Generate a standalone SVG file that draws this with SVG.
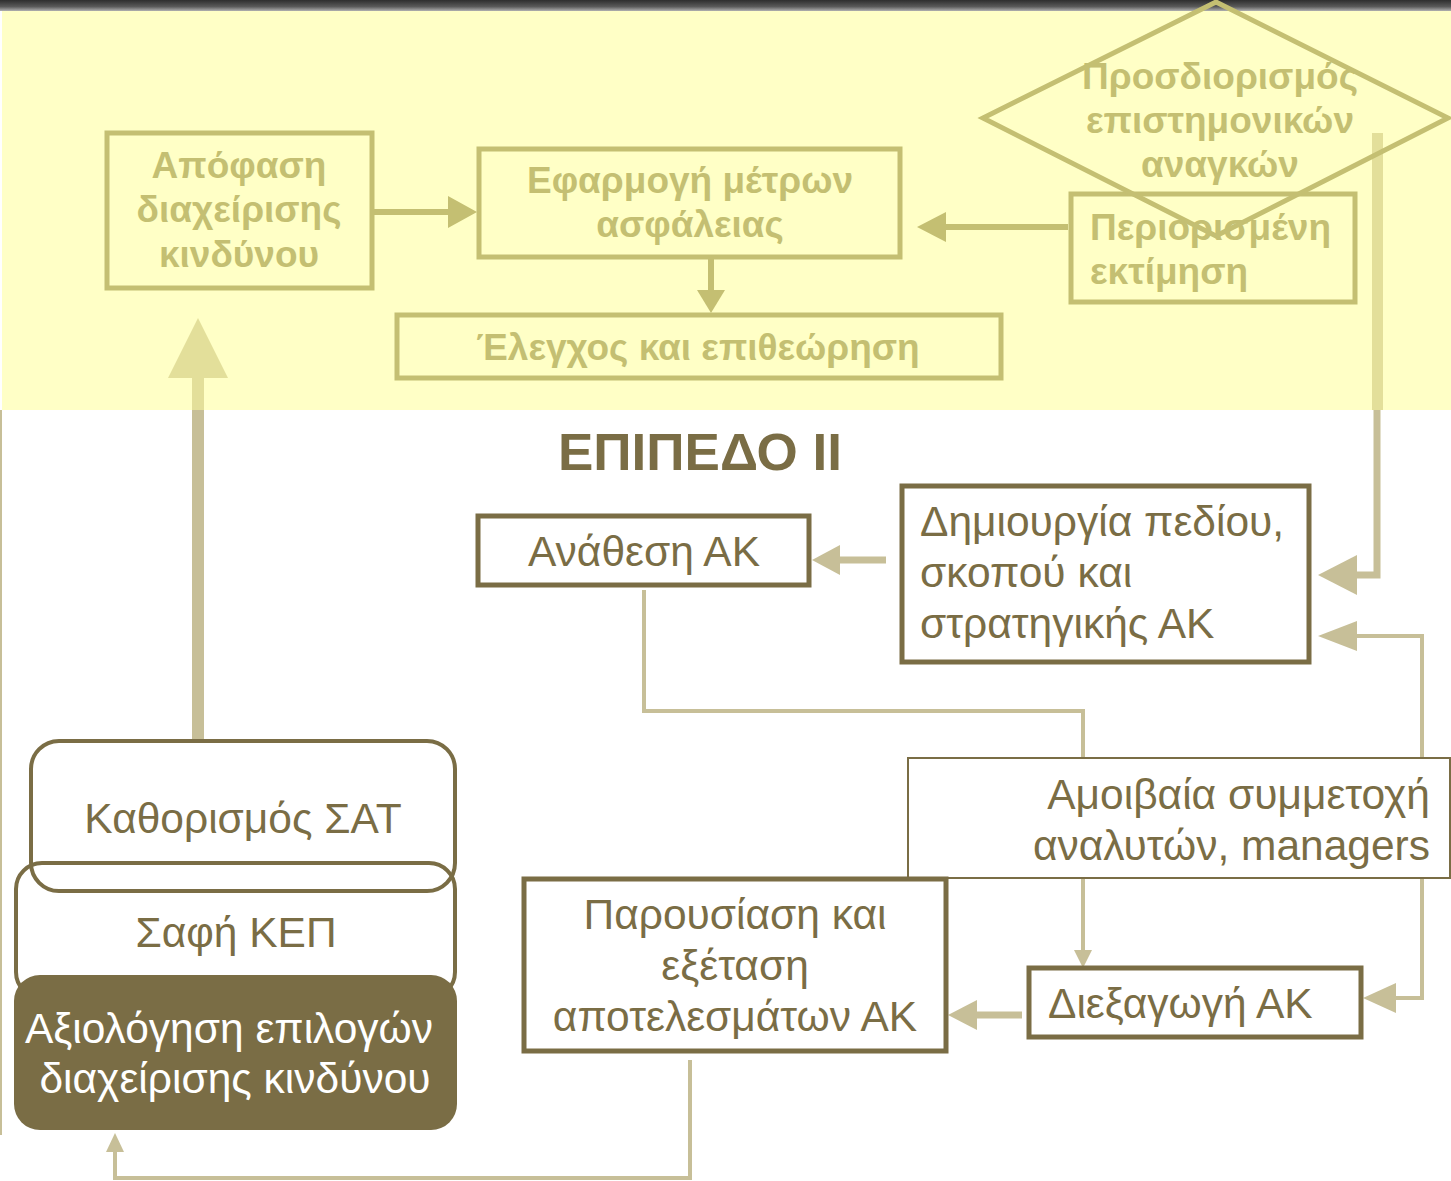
<svg xmlns="http://www.w3.org/2000/svg" width="1451" height="1181" viewBox="0 0 1451 1181">
<defs>
<linearGradient id="bar" x1="0" y1="0" x2="0" y2="1">
<stop offset="0" stop-color="#2e2e2e"/>
<stop offset="0.6" stop-color="#5a5a5a"/>
<stop offset="1" stop-color="#b0b0b0"/>
</linearGradient>
<style>
.tb{fill:none;stroke:#c4bf72;stroke-width:5}
.tt{font-family:"Liberation Sans",Arial,sans-serif;font-weight:bold;font-size:37px;fill:#c4bf72}
.bb{fill:#fff;stroke:#7a6d45;stroke-width:5}
.bt{font-family:"Liberation Sans",Arial,sans-serif;font-size:42.5px;fill:#7a6d45}
.th{stroke:#c4bf72;stroke-width:6;fill:none}
.ah{fill:#c4bf72}
.cl{stroke:#c7bf98;fill:none;stroke-width:4}
.ck{stroke:#c7bf98;fill:none;stroke-width:7}
.ch{fill:#c7bf98}
</style>
</defs>
<rect x="0" y="0" width="1451" height="1181" fill="#ffffff"/>
<rect x="2" y="10" width="1449" height="400" fill="#ffffc6"/>
<rect x="0" y="0" width="1451" height="11" fill="url(#bar)"/>
<line x1="1" y1="410" x2="1" y2="1135" stroke="#c7bf98" stroke-width="2"/>

<g id="connectors">
<line class="th" x1="373" y1="212" x2="450" y2="212"/>
<polygon class="ah" points="448,196 477,212 448,228"/>
<line class="th" x1="711" y1="257" x2="711" y2="292"/>
<polygon class="ah" points="697,290 711,313 725,290"/>
<line class="th" x1="1068" y1="227" x2="943" y2="227"/>
<polygon class="ah" points="946,212 917,227 946,242"/>
<rect x="192" y="378" width="12" height="32" fill="#e3df9a"/>
<polygon points="168,378 198,318 228,378" fill="#e3df9a"/>
<rect x="192" y="410" width="12" height="331" fill="#c7bf98"/>
<rect x="1372" y="133" width="11" height="277" fill="#e3df9a"/>
<polyline class="ck" points="1377,410 1377,575 1352,575" stroke-width="11"/>
<polygon class="ch" points="1357,555 1318,575 1357,595"/>
<line class="ck" x1="886" y1="560" x2="838" y2="560"/>
<polygon class="ch" points="840,545 812,560 840,575"/>
<polyline class="cl" points="644,590 644,711 1083,711 1083,757"/>
<line class="cl" x1="1083" y1="878" x2="1083" y2="952"/>
<polygon class="ch" points="1074,950 1083,968 1092,950"/>
<polyline class="cl" points="1422,757 1422,636 1352,636"/>
<polygon class="ch" points="1357,621 1318,636 1357,651"/>
<polyline class="cl" points="1422,878 1422,998 1392,998"/>
<polygon class="ch" points="1396,983 1363,998 1396,1013"/>
<line class="ck" x1="1022" y1="1015" x2="975" y2="1015"/>
<polygon class="ch" points="977,1000 948,1015 977,1030"/>
<polyline class="cl" points="690,1060 690,1178 115,1178 115,1150"/>
<polygon class="ch" points="106,1152 115,1133 124,1152"/>
</g>

<g id="n-apofasi">
<rect class="tb" x="107" y="133" width="265" height="155"/>
<text class="tt" text-anchor="middle" x="239" y="178">Απόφαση</text>
<text class="tt" text-anchor="middle" x="239" y="222">διαχείρισης</text>
<text class="tt" text-anchor="middle" x="239" y="267">κινδύνου</text>
</g>
<g id="n-efarmogi">
<rect class="tb" x="479" y="149" width="421" height="108"/>
<text class="tt" text-anchor="middle" x="690" y="193">Εφαρμογή μέτρων</text>
<text class="tt" text-anchor="middle" x="690" y="237">ασφάλειας</text>
</g>
<g id="n-elegxos">
<rect class="tb" x="397" y="315" width="604" height="63"/>
<text class="tt" text-anchor="middle" x="698" y="360">Έλεγχος και επιθεώρηση</text>
</g>
<g id="n-periorismeni">
<rect class="tb" x="1071" y="194" width="284" height="108"/>
<text class="tt" x="1090" y="240">Περιορισμένη</text>
<text class="tt" x="1090" y="284">εκτίμηση</text>
</g>
<g id="n-prosdiorismos">
<polygon class="tb" points="1216,2 1448,118 1216,236 983,118"/>
<text class="tt" text-anchor="middle" x="1220" y="89">Προσδιορισμός</text>
<text class="tt" text-anchor="middle" x="1220" y="133">επιστημονικών</text>
<text class="tt" text-anchor="middle" x="1220" y="177">αναγκών</text>
</g>

<g id="title">
<text x="558" y="470" font-family="Liberation Sans,Arial,sans-serif" font-weight="bold" font-size="52" fill="#7a6d45" textLength="284" lengthAdjust="spacingAndGlyphs">ΕΠΙΠΕΔΟ ΙΙ</text>
</g>

<g id="n-anathesi">
<rect class="bb" x="478" y="516" width="331" height="69"/>
<text class="bt" text-anchor="middle" x="644" y="566">Ανάθεση ΑΚ</text>
</g>
<g id="n-dimiourgia">
<rect class="bb" x="902" y="486" width="407" height="176"/>
<text class="bt" x="920" y="536">Δημιουργία πεδίου,</text>
<text class="bt" x="920" y="587">σκοπού και</text>
<text class="bt" x="920" y="638">στρατηγικής ΑΚ</text>
</g>
<g id="n-amoivaia">
<rect x="908" y="758" width="542" height="120" fill="#fff" stroke="#7a6d45" stroke-width="2"/>
<text class="bt" text-anchor="end" x="1430" y="809">Αμοιβαία συμμετοχή</text>
<text class="bt" text-anchor="end" x="1430" y="860">αναλυτών, managers</text>
</g>
<g id="n-diexagogi">
<rect class="bb" x="1029" y="968" width="332" height="69"/>
<text class="bt" x="1048" y="1018">Διεξαγωγή ΑΚ</text>
</g>
<g id="n-parousiasi">
<rect class="bb" x="524" y="879" width="422" height="172"/>
<text class="bt" text-anchor="middle" x="735" y="929">Παρουσίαση και</text>
<text class="bt" text-anchor="middle" x="735" y="980">εξέταση</text>
<text class="bt" text-anchor="middle" x="735" y="1031">αποτελεσμάτων ΑΚ</text>
</g>

<g id="n-safi">
<rect x="16" y="863" width="439" height="135" rx="26" fill="none" stroke="#7a6d45" stroke-width="4"/>
<text class="bt" text-anchor="middle" x="236" y="947">Σαφή ΚΕΠ</text>
</g>
<g id="n-kathorismos">
<rect x="31" y="741" width="424" height="150" rx="28" fill="none" stroke="#7a6d45" stroke-width="4"/>
<text class="bt" text-anchor="middle" x="243" y="833">Καθορισμός ΣΑΤ</text>
</g>
<g id="n-axiologisi">
<rect x="14" y="975" width="443" height="155" rx="26" fill="#7a6d45"/>
<text class="bt" text-anchor="middle" x="229" y="1043" style="fill:#fff">Αξιολόγηση επιλογών</text>
<text class="bt" text-anchor="middle" x="235" y="1093" style="fill:#fff">διαχείρισης κινδύνου</text>
</g>
</svg>
